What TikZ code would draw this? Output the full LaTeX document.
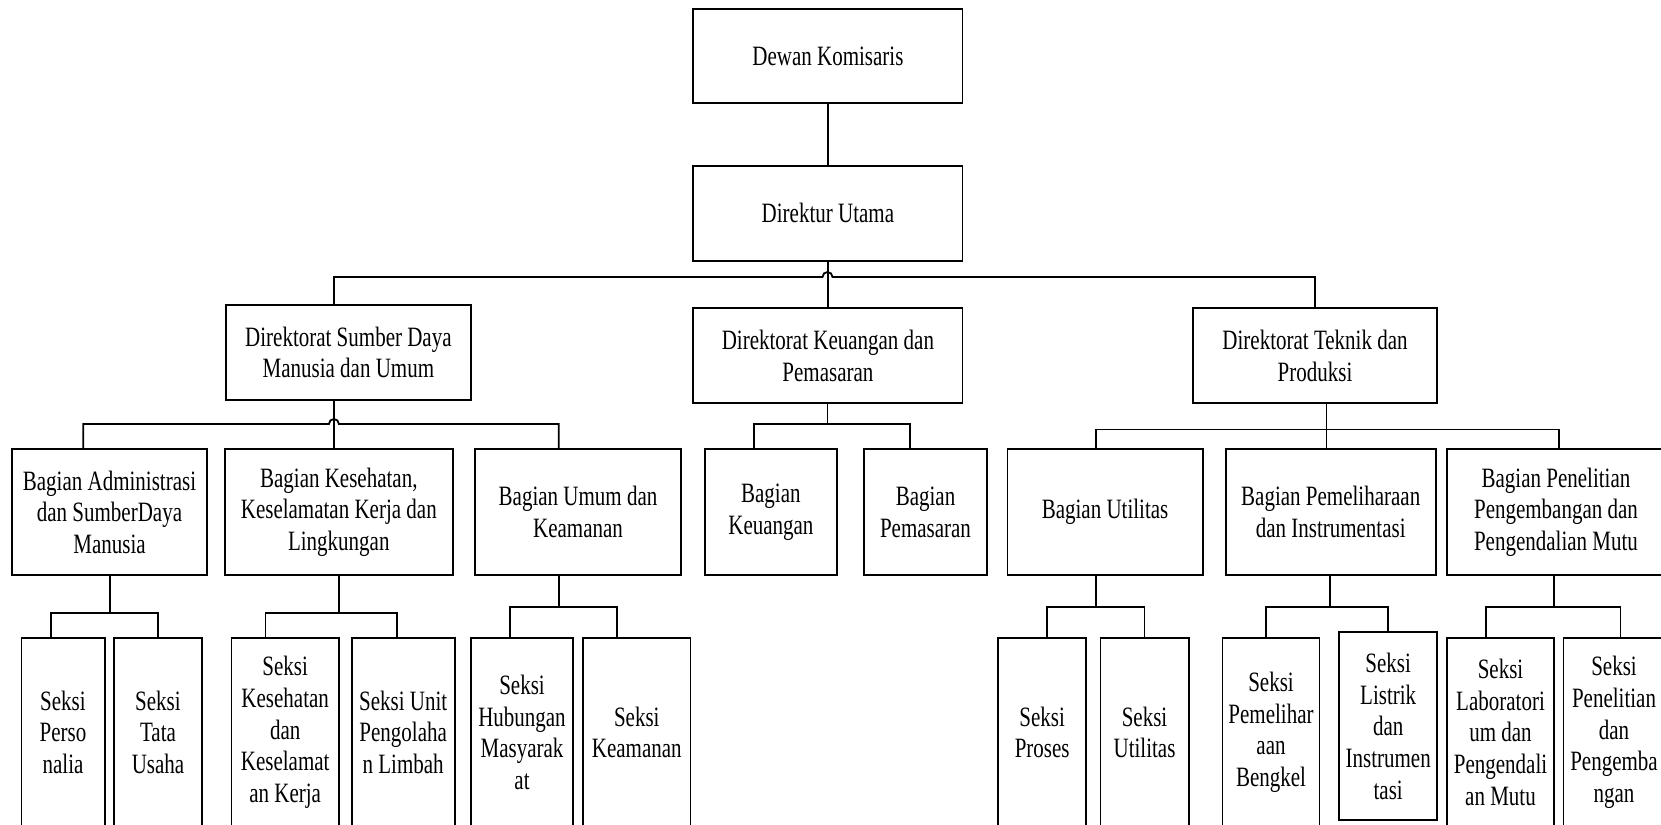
\documentclass[tikz,border=0pt]{standalone}
\usepackage{fontspec}
\setmainfont{Liberation Serif}[FakeStretch=0.75]
\newcommand{\orgfont}{\fontsize{14pt}{15.85pt}\selectfont}
\tikzset{every picture/.style={line width=0.9pt}}
\tikzset{
  unitbox/.style={draw, align=center, inner sep=0pt, font=\orgfont},
  dirbox/.style={unitbox, minimum height=47.5pt},
  bagbox/.style={unitbox, minimum height=62.85pt},
  seksibox/.style={unitbox, minimum height=94.65pt},
}

\begin{document}
\begin{tikzpicture}[x=0.5pt,y=0.5pt,yscale=-1,xscale=1]
\useasboundingbox (0,0) rectangle (1661,825);
\clip (0,0) rectangle (1661,825);

% Top
\node [unitbox, minimum width=134.65pt, minimum height=47.15pt] (dewan) at (827.9,56.2) {Dewan Komisaris};
\node [dirbox, minimum width=134.65pt] (utama) at (827.9,213.2) {Direktur Utama};

% Direktorat
\node [dirbox, minimum width=122.35pt] (dirsdm) at (348.4,352.5) {Direktorat Sumber Daya\\Manusia dan Umum};
\node [dirbox, minimum width=134.65pt] (dirkeu) at (827.9,355.8) {Direktorat Keuangan dan\\Pemasaran};
\node [dirbox, minimum width=122.1pt] (dirtek) at (1315,355.8) {Direktorat Teknik dan\\Produksi};

% Bagian
\node [bagbox, minimum width=97.65pt] (bagadm) at (109.5,512.2) {Bagian Administrasi\\dan SumberDaya\\Manusia};
\node [bagbox, minimum width=114.15pt] (bagk3l) at (338.8,512.2) {Bagian Kesehatan,\\Keselamatan Kerja dan\\Lingkungan};
\node [bagbox, minimum width=102.7pt] (bagumum) at (578,512.2) {Bagian Umum dan\\Keamanan};
\node [bagbox, minimum width=66.25pt] (bagkeu) at (770.9,512.2) {Bagian\\Keuangan};
\node [bagbox, minimum width=61.25pt] (bagpms) at (925.5,512.2) {Bagian\\Pemasaran};
\node [bagbox, minimum width=97.6pt] (bagutil) at (1105.1,512.2) {Bagian Utilitas};
\node [bagbox, minimum width=105pt] (bagpml) at (1330.7,512.2) {Bagian Pemeliharaan\\dan Instrumentasi};
\node [bagbox, minimum width=109.2pt] (bagpen) at (1556,512.2) {Bagian Penelitian\\Pengembangan dan\\Pengendalian Mutu};

% Seksi
\node [seksibox, minimum width=41.6pt] (skpers) at (63,732.4) {Seksi\\Perso\\nalia};
\node [seksibox, minimum width=43.75pt] (sktata) at (158,732.4) {Seksi\\Tata\\Usaha};
\node [seksibox, minimum width=53.75pt] (skk3) at (285.2,732.4) {Seksi\\Kesehatan\\dan\\Keselamat\\an Kerja};
\node [seksibox, minimum width=51.4pt] (sklimbah) at (403.2,732.4) {Seksi Unit\\Pengolaha\\n Limbah};
\node [seksibox, minimum width=51.25pt] (skhumas) at (522,732.4) {Seksi\\Hubungan\\Masyarak\\at};
\node [seksibox, minimum width=53.6pt] (skaman) at (636.8,732.4) {Seksi\\Keamanan};
\node [seksibox, minimum width=43.95pt] (skproses) at (1042.2,732.4) {Seksi\\Proses};
\node [seksibox, minimum width=44.1pt] (skutil) at (1144.5,732.4) {Seksi\\Utilitas};
\node [seksibox, minimum width=48.55pt] (skbengkel) at (1271,732.4) {Seksi\\Pemelihar\\aan\\Bengkel};
\node [unitbox, minimum width=48.9pt, minimum height=93.85pt] (sklistrik) at (1388.2,726.2) {Seksi\\Listrik\\dan\\Instrumen\\tasi};
\node [seksibox, minimum width=53.75pt] (sklab) at (1500.5,732.4) {Seksi\\Laboratori\\um dan\\Pengendali\\an Mutu};
\node [seksibox, minimum width=50.5pt] (skpenel) at (1614,732.4) {Seksi\\Penelitian\\dan\\Pengemba\\ngan};

% Bus points
\coordinate (dirbus) at (827.5,277);
\coordinate (sdmbus) at (333.9,424);
\coordinate (keubus) at (827.5,424);
\coordinate (tekbus) at (1326.4,429.5);
\coordinate (admbus) at (109.6,613.3);
\coordinate (k3lbus) at (338.6,613.3);
\coordinate (umumbus) at (558.7,606.7);
\coordinate (utilbus) at (1095.7,606.7);
\coordinate (pmlbus) at (1329.6,606.7);
\coordinate (penbus) at (1554.3,606.7);

%Straight Lines
\draw (dewan.south) -- (utama.north);
\draw (utama.south) -- (dirkeu.north);
\draw ([xshift=-7.25pt]dirsdm.north) |- ([xshift=-2.5pt]dirbus) arc[start angle=180,end angle=360,radius=5] -| (dirtek.north);

\draw ([xshift=-7.25pt]dirsdm.south) -- ([xshift=-2.45pt]bagk3l.north);
\draw ([xshift=-13.15pt]bagadm.north) |- ([xshift=-2.5pt]sdmbus) arc[start angle=180,end angle=360,radius=5] -| ([xshift=-9.65pt]bagumum.north);
\draw (keubus |- dirkeu.south) -- (keubus);
\draw ([xshift=-8.65pt]bagkeu.north) |- (keubus) -| ([xshift=-7.75pt]bagpms.north);
\draw ([xshift=5.7pt]dirtek.south) -- ([xshift=-2.15pt]bagpml.north);
\draw ([xshift=-4.7pt]bagutil.north) |- (tekbus) -| ([xshift=1.45pt]bagpen.north);

\draw (admbus |- bagadm.south) -- (admbus);
\draw ([xshift=-5.95pt]skpers.north) |- (admbus) -| (sktata.north);
\draw (k3lbus |- bagk3l.south) -- (k3lbus);
\draw ([xshift=-9.9pt]skk3.north) |- (k3lbus) -| ([xshift=-3.2pt]sklimbah.north);
\draw (umumbus |- bagumum.south) -- (umumbus);
\draw ([xshift=-6.15pt]skhumas.north) |- (umumbus) -| ([xshift=-9.75pt]skaman.north);
\draw (utilbus |- bagutil.south) -- (utilbus);
\draw ([xshift=2.3pt]skproses.north) |- (utilbus) -| (skutil.north);
\draw (pmlbus |- bagpml.south) -- (pmlbus);
\draw ([xshift=-2.45pt]skbengkel.north) |- (pmlbus) -| (sklistrik.north);
\draw (penbus |- bagpen.south) -- (penbus);
\draw ([xshift=-7.4pt]sklab.north) |- (penbus) -| ([xshift=3.2pt]skpenel.north);
\end{tikzpicture}
\end{document}
